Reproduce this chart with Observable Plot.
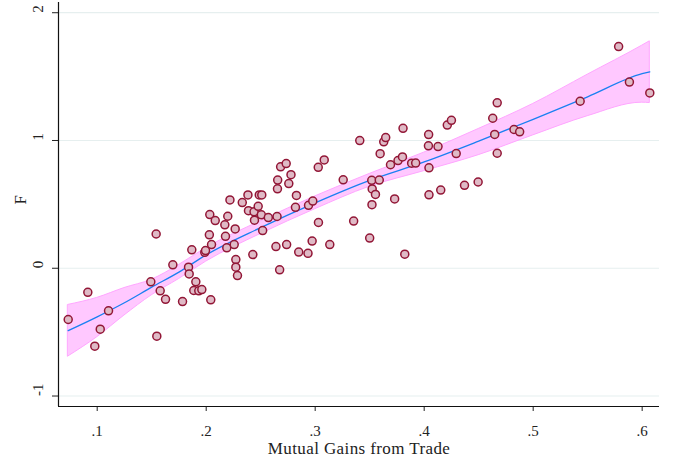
<!DOCTYPE html>
<html>
<head>
<meta charset="utf-8">
<script src="https://cdn.jsdelivr.net/npm/d3@7"></script>
<script src="https://cdn.jsdelivr.net/npm/@observablehq/plot@0.6"></script>
<style>
  html, body { margin: 0; padding: 0; background: #fff; }
</style>
</head>
<body>
<div id="chart"></div>
<script>
// Scatter: Mutual Gains from Trade (x) vs F (y)
const gains = [
  0.0734, 0.0914, 0.0978, 0.1028, 0.1104, 0.1492, 0.1547, 0.1578, 0.1627, 0.1694,
  0.1783, 0.1838, 0.1844, 0.1905, 0.1886, 0.1932, 0.1960, 0.1541, 0.1868, 0.2042,
  0.1987, 0.1994, 0.2033, 0.2083, 0.2029, 0.2049, 0.2171, 0.2198, 0.2177, 0.2189,
  0.2266, 0.2257, 0.2272, 0.2272, 0.2287, 0.2218, 0.2331, 0.2383, 0.2388, 0.2487,
  0.2510, 0.2439, 0.2477, 0.2506, 0.2443, 0.2570, 0.2650, 0.2518, 0.2428, 0.2640,
  0.2738, 0.2849, 0.2934, 0.2674, 0.2683, 0.2734, 0.2656, 0.2654, 0.2778, 0.2758,
  0.2828, 0.2819, 0.2939, 0.2978, 0.3028, 0.3083, 0.3030, 0.2972, 0.3134, 0.3257,
  0.3353, 0.3500, 0.3409, 0.3519, 0.3588, 0.3523, 0.3553, 0.3521, 0.3596, 0.3629,
  0.3647, 0.3691, 0.3760, 0.3801, 0.3729, 0.3806, 0.3822, 0.3885, 0.3922, 0.4041,
  0.4039, 0.4127, 0.4044, 0.4044, 0.4152, 0.4212, 0.4250, 0.4294, 0.4370, 0.4495,
  0.4629, 0.4670, 0.4647, 0.4670, 0.4824, 0.4876, 0.5431, 0.5784, 0.5883, 0.6070
];
const fValues = [
  -0.401, -0.188, -0.610, -0.477, -0.333, -0.106, -0.532, -0.177, -0.243, 0.027,
  -0.261, 0.008, -0.044, -0.106, -0.174, -0.177, -0.167, 0.268, 0.144, -0.247,
  0.125, 0.138, 0.420, 0.373, 0.262, 0.185, 0.340, 0.407, 0.250, 0.160,
  0.308, 0.185, 0.068, 0.008, -0.057, 0.535, 0.514, 0.574, 0.451, 0.574,
  0.574, 0.442, 0.485, 0.418, 0.376, 0.397, 0.405, 0.295, 0.107, 0.170,
  0.185, 0.127, 0.117, -0.012, 0.794, 0.819, 0.690, 0.622, 0.732, 0.663,
  0.570, 0.477, 0.493, 0.526, 0.790, 0.848, 0.358, 0.213, 0.185, 0.692,
  0.369, 0.236, 0.999, 0.688, 0.690, 0.621, 0.578, 0.498, 0.897, 0.990,
  1.023, 0.810, 0.843, 0.871, 0.543, 1.095, 0.110, 0.822, 0.823, 1.046,
  0.958, 0.952, 0.786, 0.575, 0.612, 1.121, 1.158, 0.898, 0.649, 0.675,
  1.174, 1.295, 1.047, 0.900, 1.086, 1.068, 1.307, 1.735, 1.457, 1.372
];

// Smoothed fit and its confidence band
const fitX  = [0.0734, 0.100, 0.125, 0.150, 0.175, 0.200, 0.250, 0.300, 0.350, 0.400, 0.450, 0.500, 0.550, 0.600, 0.6070];
const fitY  = [-0.488, -0.380, -0.270, -0.148, -0.030, 0.105, 0.318, 0.512, 0.688, 0.832, 0.995, 1.166, 1.342, 1.523, 1.537];
const fitLo = [-0.691, -0.540, -0.370, -0.212, -0.085, 0.052, 0.268, 0.462, 0.638, 0.760, 0.885, 1.040, 1.190, 1.296, 1.293];
const fitHi = [-0.287, -0.232, -0.155, -0.090, 0.025, 0.158, 0.368, 0.562, 0.738, 0.905, 1.090, 1.286, 1.515, 1.742, 1.776];

const xTicks = [0.1, 0.2, 0.3, 0.4, 0.5, 0.6];
const yTicks = [-1, 0, 1, 2];
const xLabel = "Mutual Gains from Trade";
const yLabel = "F";

const points = gains.map((g, i) => ({g, f: fValues[i]}));
const fit = fitX.map((x, i) => ({x, y: fitY[i], lo: fitLo[i], hi: fitHi[i]}));

const xDomain = [0.0645, 0.6159];
const yDomain = [-1.082, 2.08];

const chart = Plot.plot({
  width: 673,
  height: 466,
  marginLeft: 58,
  marginRight: 14,
  marginTop: 2,
  marginBottom: 60,
  style: {fontFamily: "Liberation Serif, serif", fontSize: "15px", color: "#222", background: "#fff"},
  x: {domain: xDomain},
  y: {domain: yDomain},
  marks: [
    Plot.gridY(yTicks, {stroke: "#e6efef", strokeOpacity: 1, strokeWidth: 1.2}),
    Plot.areaY(fit, {x: "x", y1: "lo", y2: "hi", fill: "#ffc8ff", fillOpacity: 1, stroke: "#ffa6ff", strokeWidth: 1, curve: "monotone-x"}),
    Plot.line(fit, {x: "x", y: "y", stroke: "#1a80f2", strokeWidth: 1.3, curve: "monotone-x"}),
    Plot.dot(points, {x: "g", y: "f", r: 4, fill: "#dfbac6", stroke: "#921636", strokeWidth: 1.5}),
    Plot.axisX({ticks: xTicks, tickSize: 5, tickPadding: 14, tickFormat: d => d.toFixed(1).replace(/^0/, ""), label: null, stroke: "#222"}),
    Plot.axisY({ticks: yTicks, tickSize: 6, tickFormat: () => "", label: null, stroke: "#222"}),
    Plot.text(yTicks, {y: d => d, text: d => String(d), frameAnchor: "left", dx: -20, rotate: -90, fill: "#222"}),
    Plot.text([yLabel], {text: d => d, frameAnchor: "left", dx: -38, rotate: -90, fontSize: 17, fill: "#222"}),
    Plot.text([xLabel], {text: d => d, frameAnchor: "bottom", dy: 47, fontSize: 17, fill: "#222"}),
    Plot.ruleX([xDomain[0]], {stroke: "#111", strokeWidth: 1.2}),
    Plot.ruleY([yDomain[0]], {stroke: "#111", strokeWidth: 1.2})
  ]
});
d3.select(chart).selectAll("text")
  .filter(function() { return this.textContent === xLabel; })
  .style("letter-spacing", "0.4px");
document.getElementById("chart").appendChild(chart);
</script>
</body>
</html>
